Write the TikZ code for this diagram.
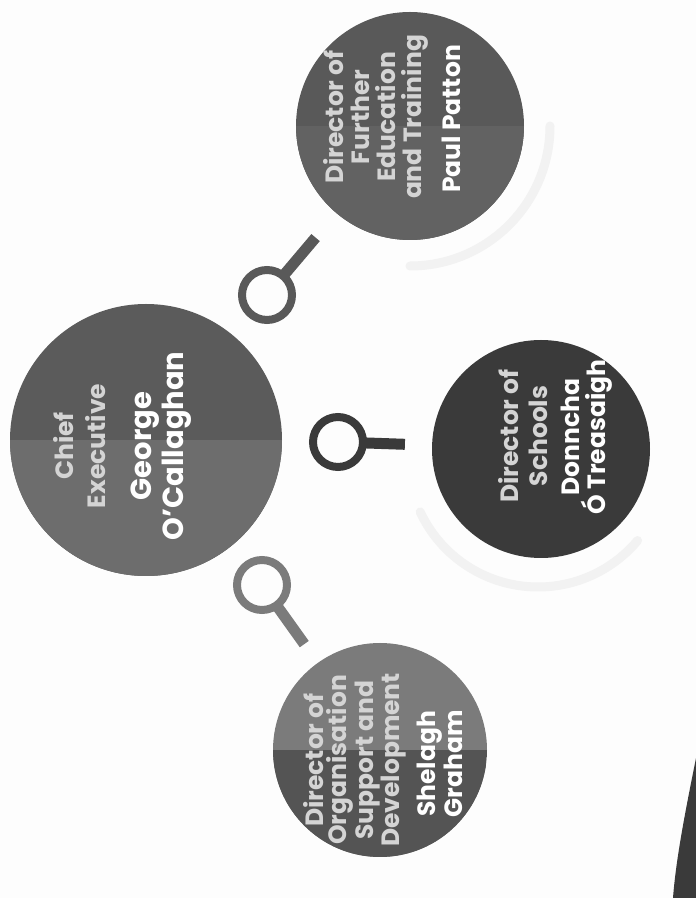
\documentclass[tikz,border=0pt]{standalone}
\usepackage{fontspec}
\setmainfont{Poppins}

\definecolor{paper}{HTML}{FDFDFD}
\definecolor{halo}{HTML}{F2F2F2}
\definecolor{chieftop}{HTML}{5B5B5B}
\definecolor{chiefbot}{HTML}{6D6D6D}
\definecolor{fettop}{HTML}{595959}
\definecolor{fetbot}{HTML}{626262}
\definecolor{schoolcol}{HTML}{3A3A3A}
\definecolor{orgtop}{HTML}{7B7B7B}
\definecolor{orgbot}{HTML}{545454}
\definecolor{titlecol}{HTML}{D4D4D4}

\begin{document}
\begin{tikzpicture}[
        x=1pt, y=1pt,
        disc/.style={circle, inner sep=0pt, minimum size=#1},
        halves/.style 2 args={fill=#1, path picture={\fill[#2] (path picture bounding box.west) rectangle (path picture bounding box.south east);}},
        ring/.style={circle, draw=#1, line width=8pt, minimum size=50pt, inner sep=0pt},
        stick/.style={draw=#1, line width=11pt},
        roletext/.style 2 args={font=\fontsize{#1}{#2}\selectfont\bfseries, text=titlecol, align=center, rotate=90, inner sep=0pt},
        nametext/.style 2 args={font=\fontsize{#1}{#2}\selectfont\bfseries, text=white, align=center, rotate=90, inner sep=0pt}
    ]

        \useasboundingbox (0,0) rectangle (696,898);
        \fill[paper] (0,0) rectangle (696,898);

        % faint shadow edges of the halos
        \draw[halo, line width=9pt, line cap=round] (410,772) ++(-90:140) arc (-90:0:140);
        \draw[halo, line width=9pt, line cap=round] (538,441) ++(205:130) arc (205:320:130);

        % dark shape in the corner
        \fill[schoolcol] (696,140) .. controls (686,90) and (676,40) .. (673,0) -- (696,0) -- cycle;

        % discs
        \node[disc=272pt, halves={chieftop}{chiefbot}] (chief) at (146,458) {};
        \node[disc=228pt, halves={fettop}{fetbot}] (further) at (410,772) {};
        \node[disc=218pt, fill=schoolcol] (schools) at (541,449) {};
        \node[disc=214pt, halves={orgtop}{orgbot}] (orgsupport) at (380,148) {};

        % texts
        \node[roletext={25}{32}] (chief_role) at (80,452) {Chief\\Executive};
        \node[nametext={29}{32}] (chief_name) at (161,452) {George\\O'Callaghan};

        \node[roletext={25}{26}] (further_role) at (376,781) {Director of\\Further\\Education\\and Training};
        \node[nametext={25}{26}] (further_name) at (451,779) {Paul Patton};

        \node[roletext={25}{29}] (schools_role) at (523,462) {Director of\\Schools};
        \node[nametext={25}{26}] (schools_name) at (587,461) {Donncha\\Ó Treasaigh};

        \node[roletext={25}{23}] (orgsupport_role) at (355,138) {Director of\\Organisation\\Support and\\Development};
        \node[nametext={25}{23}] (orgsupport_name) at (440,134) {Shelagh\\Graham};

        % rings and sticks
        \node[ring=fettop] (ring_further) at (267,603) {};
        \node[ring=schoolcol] (ring_schools) at (338,456) {};
        \node[ring=orgtop] (ring_org) at (262,313) {};
        \draw[stick=fettop, shorten <=-3pt, shorten >=32pt] (ring_further) -- (further);
        \draw[stick=schoolcol, shorten <=-3pt, shorten >=27pt] (ring_schools) -- (schools);
        \draw[stick=orgtop, shorten <=-3pt, shorten >=23pt] (ring_org) -- (orgsupport);

    \end{tikzpicture}
\end{document}
